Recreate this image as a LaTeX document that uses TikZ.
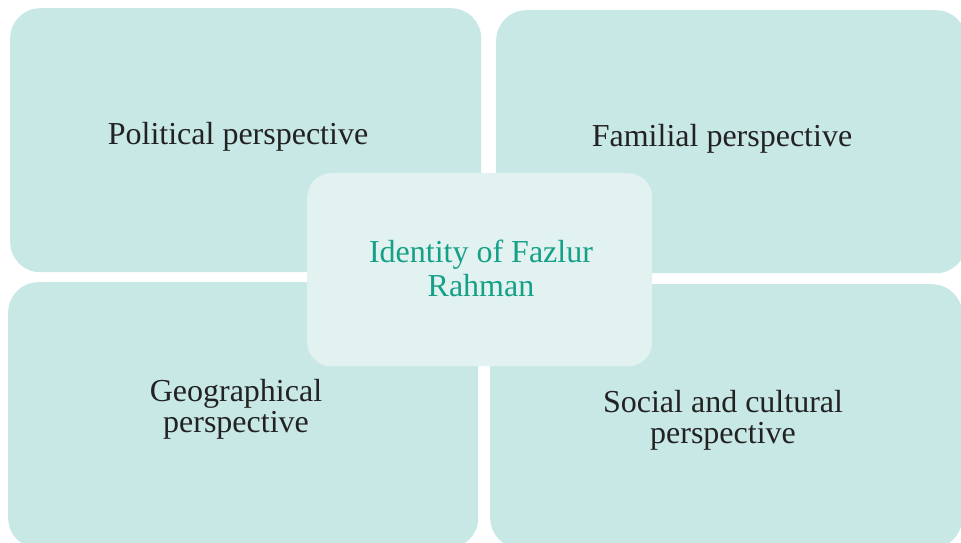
\documentclass[tikz,border=0pt]{standalone}
\usepackage{fontspec}
\setmainfont{Liberation Serif}
\usepackage{tikz}
\definecolor{boxteal}{RGB}{200,232,230}
\definecolor{coreteal}{RGB}{225,242,241}
\definecolor{titleteal}{RGB}{22,160,136}
\definecolor{textgrey}{RGB}{34,34,34}
\tikzset{
  font={\fontsize{32pt}{31pt}\selectfont}}

\begin{document}
\begin{tikzpicture}[x=1pt,y=1pt]
\tikzstyle{every node}+=[inner sep=0pt]
\tikzstyle{persp}=[fill=boxteal, rounded corners=30pt, anchor=north west]
\tikzstyle{label}=[text=textgrey, align=center, anchor=base]
\useasboundingbox (0,0) rectangle (961,-542);
% the four perspectives
\node [persp, minimum width=471pt, minimum height=264pt] (polbox) at (10,-8) {};
\node [persp, minimum width=470pt, minimum height=263pt] (fambox) at (496,-10) {};
\node [persp, minimum width=470pt, minimum height=266pt] (geobox) at (8,-282) {};
\node [persp, minimum width=472pt, minimum height=264pt] (socbox) at (490,-284) {};
\node [label] (poltext) at (238,-144) {Political perspective};
\node [label] (famtext) at (722,-146) {Familial perspective};
\node [label] (geotext) at (236,-432) {Geographical\\perspective};
\node [label] (soctext) at (723,-443) {Social and cultural\\perspective};
% the core
\node [fill=coreteal, rounded corners=24pt, anchor=north west,
  minimum width=345pt, minimum height=193pt] (corebox) at (307,-173) {};
\node [text=titleteal, align=center, anchor=base,
  font={\fontsize{32pt}{34pt}\selectfont}] (coretext) at (481,-296) {Identity of Fazlur\\Rahman};
\end{tikzpicture}
\end{document}
